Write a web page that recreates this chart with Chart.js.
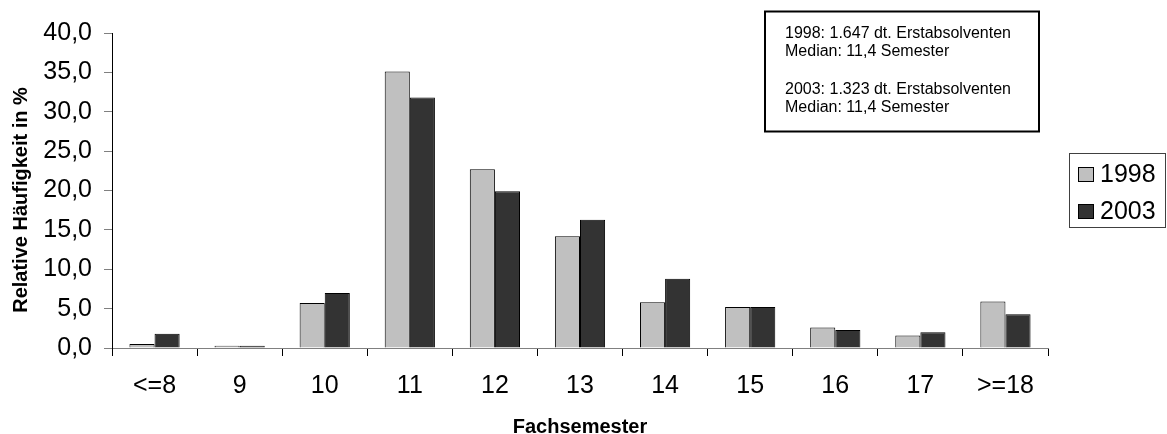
<!DOCTYPE html>
<html>
<head>
<meta charset="utf-8">
<script src="https://cdn.jsdelivr.net/npm/chart.js@4/dist/chart.umd.min.js"></script>
<style>
  html, body { margin: 0; padding: 0; background: #fff; }
  canvas { display: block; }
</style>
</head>
<body>
<canvas id="myChart" width="1167" height="434"></canvas>
<script>
const categories = ['<=8', '9', '10', '11', '12', '13', '14', '15', '16', '17', '>=18'];
const series1998 = [0.5, 0.3, 5.7, 35.1, 22.7, 14.2, 5.8, 5.2, 2.6, 1.6, 5.9];
const series2003 = [1.8, 0.3, 7.0, 31.8, 19.9, 16.3, 8.8, 5.2, 2.3, 2.0, 4.3];
const seriesNames = ['1998', '2003'];
const yMin = 0, yMax = 40, yStep = 5;
const noteLines = [
  '1998: 1.647 dt. Erstabsolventen',
  'Median: 11,4 Semester',
  '',
  '2003: 1.323 dt. Erstabsolventen',
  'Median: 11,4 Semester'
];
const yTitle = 'Relative Häufigkeit in %';
const xTitle = 'Fachsemester';

const FONT = '"Liberation Sans", Arial, sans-serif';
Chart.defaults.font.family = FONT;
Chart.defaults.color = '#000';

const data = {
  labels: categories,
  datasets: [{
    label: seriesNames[0],
    data: series1998,
    backgroundColor: '#c0c0c0',
    borderColor: '#000',
    borderWidth: 1
  }, {
    label: seriesNames[1],
    data: series2003,
    backgroundColor: '#333333',
    borderColor: '#000',
    borderWidth: 1
  }]
};

// note box, legend and y title drawn on top
const extras = {
  id: 'extras',
  afterDraw(chart) {
    const {ctx} = chart;
    ctx.save();

    // note box
    ctx.lineWidth = 2;
    ctx.strokeStyle = '#000';
    ctx.strokeRect(765, 11.5, 274, 120);
    ctx.font = '16px ' + FONT;
    ctx.fillStyle = '#000';
    ctx.textAlign = 'left';
    ctx.textBaseline = 'alphabetic';
    let y = 38;
    noteLines.forEach(line => {
      if (line) ctx.fillText(line, 785, y);
      y += line ? 18 : 20;
    });

    // legend
    ctx.lineWidth = 1;
    ctx.strokeStyle = '#404040';
    ctx.strokeRect(1069.5, 153.5, 96, 74);
    ctx.font = '25px ' + FONT;
    ctx.textBaseline = 'middle';
    chart.data.datasets.forEach((ds, i) => {
      const top = 167 + i * 37;
      ctx.fillStyle = ds.backgroundColor;
      ctx.fillRect(1078, top, 16, 15);
      ctx.strokeStyle = '#000';
      ctx.strokeRect(1078.5, top + 0.5, 15, 14);
      ctx.fillStyle = '#000';
      ctx.fillText(ds.label, 1100, top + 8);
    });

    // y title
    ctx.font = 'bold 20px ' + FONT;
    ctx.textAlign = 'center';
    ctx.textBaseline = 'middle';
    ctx.translate(21, 200);
    ctx.rotate(-Math.PI / 2);
    ctx.fillText(yTitle, 0, 0);
    ctx.restore();
  }
};

const config = {
  type: 'bar',
  data,
  options: {
    responsive: false,
    animation: false,
    devicePixelRatio: 1,
    layout: { padding: { left: 0, right: 119, top: 33, bottom: 0 } },
    plugins: {
      legend: { display: false },
      tooltip: { enabled: false }
    },
    datasets: {
      bar: { categoryPercentage: 0.59, barPercentage: 1.0 }
    },
    scales: {
      x: {
        grid: { drawOnChartArea: false, drawTicks: true, tickLength: 8, color: '#000' },
        border: { display: true, color: '#808080', width: 1 },
        ticks: { font: { size: 25 }, padding: 15, maxRotation: 0, autoSkip: false },
        title: { display: true, text: xTitle, font: { size: 20, weight: 'bold' }, padding: { top: 0, bottom: -5 } },
        afterFit(scale) {
          scale.height = 86;
          scale.paddingLeft = 0;
          scale.paddingRight = 0;
        }
      },
      y: {
        min: yMin,
        max: yMax,
        grid: { drawOnChartArea: false, drawTicks: true, tickLength: 8, color: '#808080' },
        border: { display: true, color: '#000', width: 1 },
        ticks: {
          stepSize: yStep,
          font: { size: 25 },
          padding: 12,
          callback: v => v.toFixed(1).replace('.', ',')
        },
        afterFit(scale) {
          scale.width = 112;
          scale.paddingTop = 0;
          scale.paddingBottom = 0;
        }
      }
    }
  },
  plugins: [extras]
};

const myChart = new Chart(document.getElementById('myChart'), config);
</script>
</body>
</html>
